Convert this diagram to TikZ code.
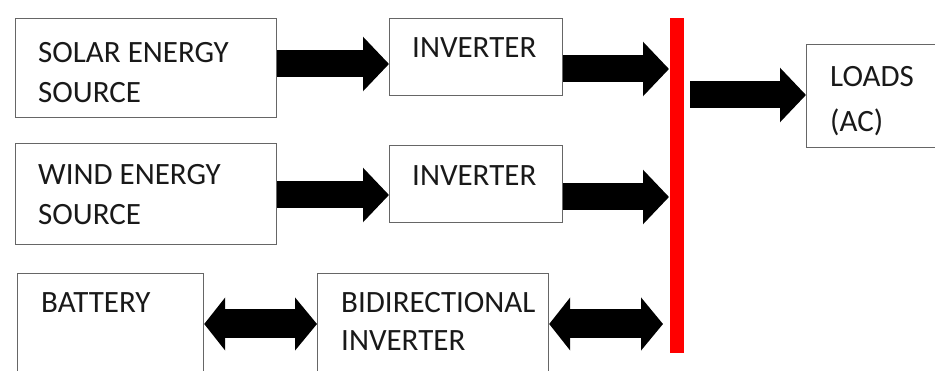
\documentclass[tikz,border=0pt]{standalone}
\usepackage{fontspec}
\setmainfont{Carlito}
\usetikzlibrary{positioning,arrows.meta}

\begin{document}
\begin{tikzpicture}[x=1pt,y=-1pt,
blk/.style={draw=black!60, line width=1.2pt, inner sep=0pt, anchor=north west},
txt/.style={anchor=north west, inner sep=0pt, align=left, text=black!90, font=\fontsize{31}{40}\selectfont},
fat/.style={line width=27pt, -{Triangle[length=26pt,width=53pt]}},
dbl/.style={line width=29pt, {Triangle[length=21pt,width=52pt]}-{Triangle[length=22pt,width=52pt]}}]
\clip (0,0) rectangle (935,371);
\node[blk, minimum width=261pt, minimum height=99pt] (solar) at (15,18) {};
\node[blk, minimum width=173pt, minimum height=77pt] (inv1) at (389,18) {};
\node[blk, minimum width=261pt, minimum height=101pt] (wind) at (15,143) {};
\node[blk, minimum width=173pt, minimum height=77pt] (inv2) at (389,145) {};
\node[blk, minimum width=186pt, minimum height=130pt] (batt) at (17,273) {};
\node[blk, minimum width=231pt, minimum height=130pt] (bidir) at (317,273) {};
\node[blk, minimum width=140pt, minimum height=103pt] (loads) at (806,44) {};
\node[blk, draw=none, fill=red, minimum width=14pt, minimum height=335pt] (bus) at (669,17) {};
\node[txt, below right=24pt and 23pt of solar.north west] (solarT) {SOLAR ENERGY\\SOURCE};
\node[txt, below right=19pt and 23pt of inv1.north west] (inv1T) {INVERTER};
\node[txt, below right=21pt and 23pt of wind.north west] (windT) {WIND ENERGY\\SOURCE};
\node[txt, below right=20pt and 23pt of inv2.north west] (inv2T) {INVERTER};
\node[txt, below right=19pt and 24pt of batt.north west] (battT) {BATTERY};
\node[txt, below right=19pt and 24pt of bidir.north west, font=\fontsize{31}{38}\selectfont] (bidirT) {BIDIRECTIONAL\\INVERTER};
\node[txt, below right=22pt and 24pt of loads.north west, font=\fontsize{31}{45}\selectfont] (loadsT) {LOADS\\(AC)};
\coordinate (r1) at (0,64);
\coordinate (r2) at (0,69);
\coordinate (r3) at (0,195);
\coordinate (r4) at (0,197);
\coordinate (r5) at (0,95);
\coordinate (r6) at (0,324);
\draw[fat] (solar.east |- r1) -- (inv1.west |- r1);
\draw[fat] (inv1.east |- r2) -- (bus.west |- r2);
\draw[fat] (wind.east |- r3) -- (inv2.west |- r3);
\draw[fat] (inv2.east |- r4) -- (bus.west |- r4);
\draw[fat, shorten <=6pt] (bus.east |- r5) -- (loads.west |- r5);
\draw[dbl] (batt.east |- r6) -- (bidir.west |- r6);
\draw[dbl, shorten >=6pt] (bidir.east |- r6) -- (bus.west |- r6);
\end{tikzpicture}
\end{document}
